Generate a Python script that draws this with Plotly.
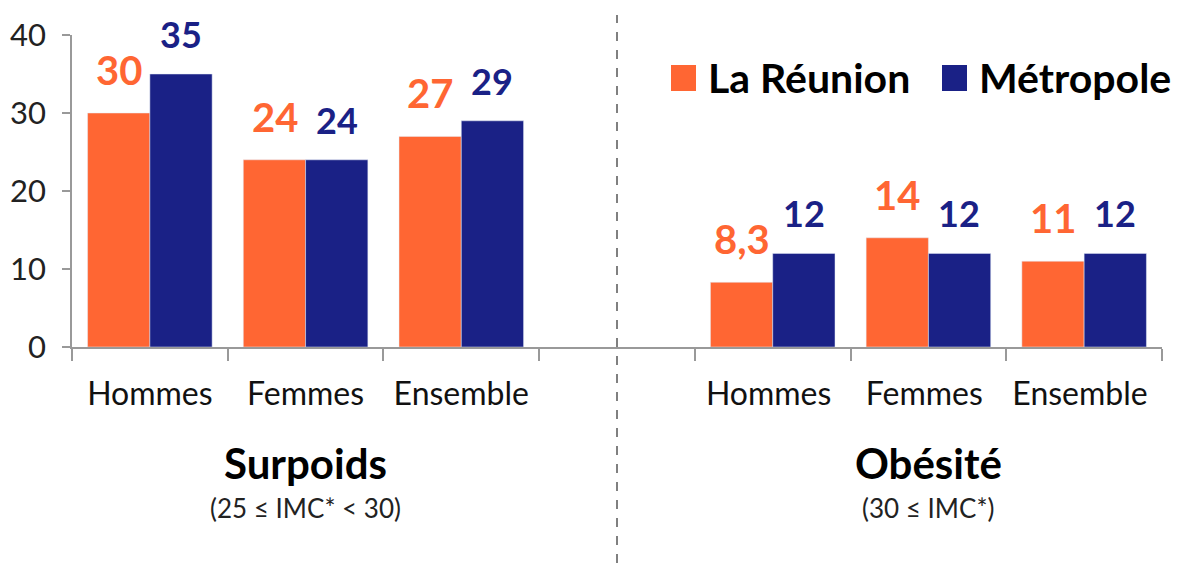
import plotly.graph_objects as go

# 7 slots on the axis: 3 for Surpoids, an empty one, 3 for Obésité
slots = ["Hommes", "Femmes", "Ensemble", " ", "Hommes ", "Femmes ", "Ensemble "]
groups = ["Hommes", "Femmes", "Ensemble", "Hommes ", "Femmes ", "Ensemble "]

reunion = [30, 24, 27, 8.3, 14, 11]
metropole = [35, 24, 29, 12, 12, 12]

ORANGE = "#FF6633"
BLUE = "#1A2186"
FONT = "Lato"


def fr(v):
    """French number format: 8.3 -> 8,3"""
    return f"{v:g}".replace(".", ",")


fig = go.Figure()
fig.add_trace(go.Bar(x=groups, y=reunion, name="La Réunion", marker_color=ORANGE))
fig.add_trace(go.Bar(x=groups, y=metropole, name="Métropole", marker_color=BLUE))

# value labels above each bar
annotations = []
for g, r, m in zip(groups, reunion, metropole):
    annotations.append(dict(x=g, y=r, text=fr(r), xref="x", yref="y", showarrow=False,
                            xshift=-31, yshift=17, yanchor="bottom",
                            font=dict(family=FONT, size=40, color=ORANGE, weight="bold")))
    annotations.append(dict(x=g, y=m, text=fr(m), xref="x", yref="y", showarrow=False,
                            xshift=31, yshift=16, yanchor="bottom",
                            font=dict(family=FONT, size=36, color=BLUE, weight="bold")))

# group titles
for x, title, sub in [(1, "Surpoids", "(25 ≤ IMC* < 30)"), (5, "Obésité", "(30 ≤ IMC*)")]:
    annotations.append(dict(x=x, y=-0.372, xref="x", yref="paper", text=title, showarrow=False,
                            yanchor="middle",
                            font=dict(family=FONT, size=42, color="black", weight="bold")))
    annotations.append(dict(x=x, y=-0.515, xref="x", yref="paper", text=sub, showarrow=False,
                            yanchor="middle", font=dict(family=FONT, size=26, color="#222")))

# hand-made legend (big squares)
legend_items = [("La Réunion", ORANGE, 671), ("Métropole", BLUE, 942)]
shapes = []
for name, col, px in legend_items:
    x0 = (px - 72) / 1090
    x1 = (px + 25 - 72) / 1090
    shapes.append(dict(type="rect", xref="paper", yref="paper", x0=x0, x1=x1,
                       y0=(347 - 91) / 312, y1=(347 - 65) / 312,
                       fillcolor=col, line=dict(width=0)))
    annotations.append(dict(x=(px + 35 - 72) / 1090, y=(347 - 78) / 312, xref="paper", yref="paper",
                            text=name, showarrow=False, xanchor="left", yanchor="middle",
                            font=dict(family=FONT, size=41, color="black", weight="bold")))

# dashed separator in the empty slot
shapes.append(dict(type="line", xref="x", yref="paper", x0=" ", x1=" ", y0=-0.75, y1=1.064,
                   line=dict(color="#808080", width=2, dash="dash")))

# the page body adds 8px on the left and top, so the figure is 8px smaller
fig.update_layout(
    width=1176, height=555,
    margin=dict(l=64, r=22, t=27, b=216),
    paper_bgcolor="white", plot_bgcolor="white",
    barmode="group", bargap=0.2, bargroupgap=0,
    showlegend=False,
    annotations=annotations, shapes=shapes,
    font=dict(family=FONT, color="#222"),
)
fig.update_xaxes(type="category", categoryorder="array", categoryarray=slots,
                 range=[-0.5, 6.5], showline=True, linecolor="#999", linewidth=1.5,
                 ticks="outside", tickson="boundaries", ticklen=12, tickcolor="#999", tickwidth=1.5,
                 ticklabelstandoff=18, tickangle=0, automargin=False,
                 tickfont=dict(family=FONT, size=32, color="#111"), showgrid=False)
fig.update_yaxes(range=[0, 40], dtick=10, showline=True, linecolor="#999", linewidth=1.5,
                 ticks="outside", ticklen=8, tickcolor="#999", tickwidth=1.5,
                 ticklabelstandoff=10, automargin=False,
                 tickfont=dict(family=FONT, size=31, color="#222"), showgrid=False, zeroline=False)

fig.write_html("out.html")
